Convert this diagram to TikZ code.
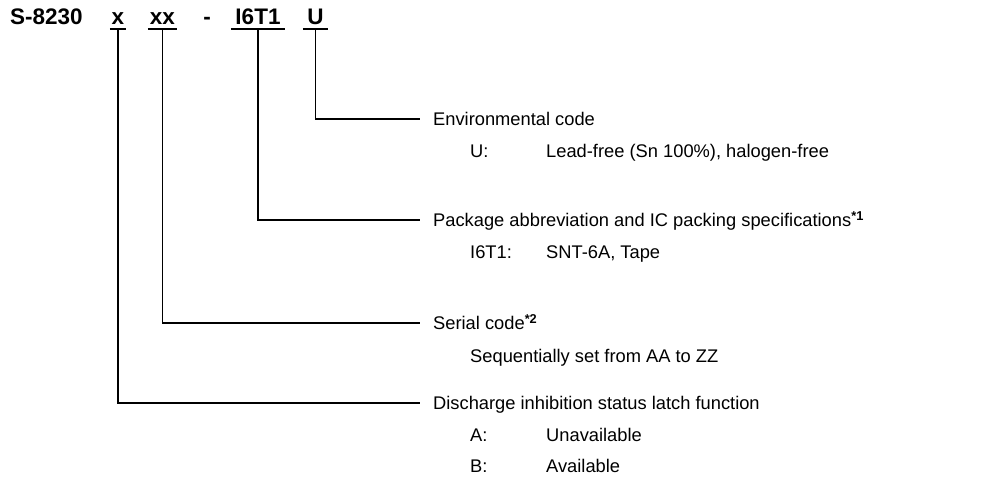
\documentclass[tikz,border=0pt]{standalone}
\usepackage{fontspec}
\setmainfont{Liberation Sans}
\begin{document}
\begin{tikzpicture}[x=1pt,y=-1pt,
  code/.style={font=\bfseries\fontsize{22.5}{22.5}\selectfont, inner sep=0pt, anchor=base},
  lbl/.style={font=\fontsize{18.3}{18.3}\selectfont, inner sep=0pt, anchor=base west},
  conn/.style={line width=1.3pt},
  uline/.style={line width=1.3pt}]
\useasboundingbox (0,0) rectangle (1002,486);
% title
\node[code, anchor=base west] (pS) at (10,25) {S-8230};
\node[code, minimum width=16] (px) at (118,25) {x};
\node[code, minimum width=29] (pxx) at (162.5,25) {xx};
\node[code] (pd) at (207,25) {-};
\node[code, minimum width=54] (pi) at (258,25) {I6T1};
\node[code, minimum width=25] (pu) at (315.5,25) {U};
\foreach \n in {px,pxx,pi,pu}{
  \draw[uline] ([yshift=-4pt]\n.base west) -- ([yshift=-4pt]\n.base east);
}
% line ends
\coordinate (eU) at (420,119);
\coordinate (eI) at (420,220);
\coordinate (eS) at (420,323);
\coordinate (eD) at (420,403);
% labels
\node[lbl] (lU) at (433,125.5) {Environmental code};
\node[lbl] (lU1) at (470,157.5) {U:};
\node[lbl] (lU2) at (546,157.5) {Lead-free (Sn 100\%), halogen-free};
\node[lbl] (lI) at (433,226.5) {Package abbreviation and IC packing specifications\textsuperscript{\bfseries *1}};
\node[lbl] (lI1) at (470,258.5) {I6T1:};
\node[lbl] (lI2) at (546,258.5) {SNT-6A, Tape};
\node[lbl] (lS) at (433,329.5) {Serial code\textsuperscript{\bfseries *2}};
\node[lbl] (lS1) at (470,362.5) {Sequentially set from AA to ZZ};
\node[lbl] (lD) at (433,409.5) {Discharge inhibition status latch function};
\node[lbl] (lDA) at (470,441.5) {A:};
\node[lbl] (lDA2) at (546,441.5) {Unavailable};
\node[lbl] (lDB) at (470,472.5) {B:};
\node[lbl] (lDB2) at (546,472.5) {Available};
% connectors
\draw[conn] ([yshift=-4pt]pu.base) |- (eU);
\draw[conn] ([yshift=-4pt]pi.base) |- (eI);
\draw[conn] ([yshift=-4pt]pxx.base) |- (eS);
\draw[conn] ([yshift=-4pt]px.base) |- (eD);
\end{tikzpicture}
\end{document}
